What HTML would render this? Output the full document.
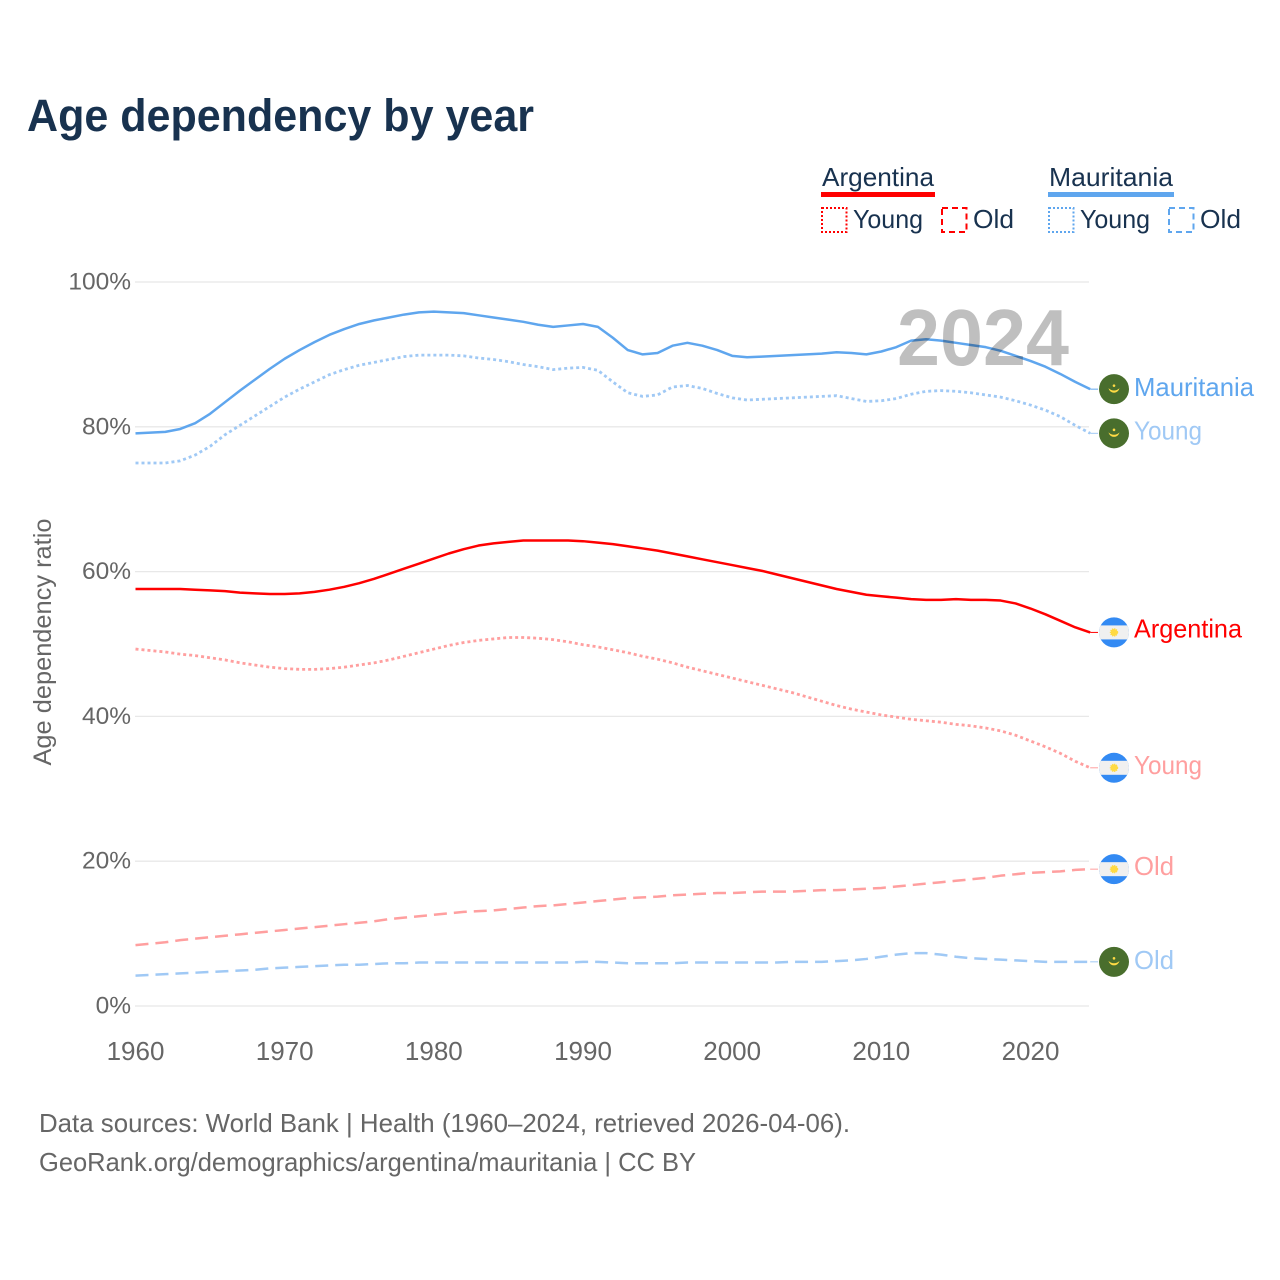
<!DOCTYPE html>
<html lang="en">
<head>
<meta charset="utf-8">
<title>Age dependency by year</title>
<style>
html,body{margin:0;padding:0;background:#fff;}
svg{display:block;}
text{font-family:"Liberation Sans",sans-serif;}
</style>
</head>
<body>
<svg id="chart" xmlns="http://www.w3.org/2000/svg" width="1280" height="1280" viewBox="0 0 1280 1280">
  <defs>
    <clipPath id="flag-clip"><circle cx="0" cy="0" r="15"/></clipPath>
  </defs>
  <rect x="0" y="0" width="1280" height="1280" fill="#fff"/>
  <text x="27" y="131" font-size="45" font-weight="700" fill="#18324f" textLength="507" lengthAdjust="spacingAndGlyphs">Age dependency by year</text>

  <g>
    <g>
      <text x="822" y="186" font-size="26" fill="#18324f" textLength="112" lengthAdjust="spacingAndGlyphs">Argentina</text>
      <rect x="821" y="192" width="114" height="5" fill="#ff0000"/>
      <rect x="822" y="208" width="24.5" height="24" fill="none" stroke="#ff0000" stroke-width="2" stroke-dasharray="2 2"/>
      <text x="853" y="228" font-size="26" fill="#18324f" textLength="70" lengthAdjust="spacingAndGlyphs">Young</text>
      <rect x="942" y="208" width="24.5" height="24" fill="none" stroke="#ff0000" stroke-width="2" stroke-dasharray="6 4"/>
      <text x="973" y="228" font-size="26" fill="#18324f" textLength="41" lengthAdjust="spacingAndGlyphs">Old</text>
    </g>
    <g>
      <text x="1049" y="186" font-size="26" fill="#18324f" textLength="124" lengthAdjust="spacingAndGlyphs">Mauritania</text>
      <rect x="1048" y="192" width="126" height="5" fill="#5fa6ee"/>
      <rect x="1049" y="208" width="24.5" height="24" fill="none" stroke="#5fa6ee" stroke-width="2" stroke-dasharray="2 2"/>
      <text x="1080" y="228" font-size="26" fill="#18324f" textLength="70" lengthAdjust="spacingAndGlyphs">Young</text>
      <rect x="1169" y="208" width="24.5" height="24" fill="none" stroke="#5fa6ee" stroke-width="2" stroke-dasharray="6 4"/>
      <text x="1200" y="228" font-size="26" fill="#18324f" textLength="41" lengthAdjust="spacingAndGlyphs">Old</text>
    </g>
  </g>

  <g id="grid"></g>
  <g id="yticks"></g>
  <g id="xticks"></g>
  <text transform="translate(51,642) rotate(-90)" text-anchor="middle" font-size="25" fill="#666666" textLength="247" lengthAdjust="spacingAndGlyphs">Age dependency ratio</text>
  <g id="series"></g>
  <g id="endlabels"></g>
  <text x="897" y="365" font-size="80" font-weight="700" fill="#000" fill-opacity="0.25" textLength="172" lengthAdjust="spacingAndGlyphs">2024</text>

  <text x="39" y="1132" font-size="26" fill="#666666" textLength="811" lengthAdjust="spacingAndGlyphs">Data sources: World Bank | Health (1960–2024, retrieved 2026-04-06).</text>
  <text x="39" y="1171" font-size="26" fill="#666666" textLength="657" lengthAdjust="spacingAndGlyphs">GeoRank.org/demographics/argentina/mauritania | CC BY</text>
</svg>
<script>
const years = [1960,1961,1962,1963,1964,1965,1966,1967,1968,1969,1970,1971,1972,1973,1974,1975,1976,1977,1978,1979,1980,1981,1982,1983,1984,1985,1986,1987,1988,1989,1990,1991,1992,1993,1994,1995,1996,1997,1998,1999,2000,2001,2002,2003,2004,2005,2006,2007,2008,2009,2010,2011,2012,2013,2014,2015,2016,2017,2018,2019,2020,2021,2022,2023,2024];
const yTickValues = [0,20,40,60,80,100];
const xTickValues = [1960,1970,1980,1990,2000,2010,2020];
const mauritaniaTotal = [79.1,79.2,79.3,79.7,80.5,81.8,83.4,85.0,86.5,88.0,89.4,90.6,91.7,92.7,93.5,94.2,94.7,95.1,95.5,95.8,95.9,95.8,95.7,95.4,95.1,94.8,94.5,94.1,93.8,94.0,94.2,93.8,92.3,90.6,90.0,90.2,91.2,91.6,91.2,90.6,89.8,89.6,89.7,89.8,89.9,90.0,90.1,90.3,90.2,90.0,90.4,91.0,91.9,92.1,91.9,91.6,91.3,91.0,90.5,89.8,89.1,88.3,87.3,86.2,85.2];
const mauritaniaYoung = [75.0,75.0,75.0,75.3,76.1,77.3,78.9,80.2,81.5,82.8,84.1,85.2,86.2,87.2,87.9,88.5,88.9,89.3,89.7,89.9,89.9,89.9,89.8,89.5,89.3,89.0,88.6,88.3,87.9,88.1,88.2,87.8,86.2,84.7,84.2,84.4,85.5,85.7,85.3,84.6,84.0,83.7,83.8,83.9,84.0,84.1,84.2,84.3,83.9,83.5,83.6,83.9,84.5,84.9,85.0,84.9,84.7,84.4,84.1,83.6,83.0,82.3,81.4,80.2,79.1];
const mauritaniaOld = [4.2,4.3,4.4,4.5,4.6,4.7,4.8,4.9,5.0,5.2,5.3,5.4,5.5,5.6,5.7,5.7,5.8,5.9,5.9,6.0,6.0,6.0,6.0,6.0,6.0,6.0,6.0,6.0,6.0,6.0,6.1,6.1,6.0,5.9,5.9,5.9,5.9,6.0,6.0,6.0,6.0,6.0,6.0,6.0,6.1,6.1,6.1,6.2,6.3,6.5,6.8,7.1,7.3,7.3,7.1,6.8,6.6,6.5,6.4,6.3,6.2,6.1,6.1,6.1,6.1];
const argentinaTotal = [57.6,57.6,57.6,57.6,57.5,57.4,57.3,57.1,57.0,56.9,56.9,57.0,57.2,57.5,57.9,58.4,59.0,59.7,60.4,61.1,61.8,62.5,63.1,63.6,63.9,64.1,64.3,64.3,64.3,64.3,64.2,64.0,63.8,63.5,63.2,62.9,62.5,62.1,61.7,61.3,60.9,60.5,60.1,59.6,59.1,58.6,58.1,57.6,57.2,56.8,56.6,56.4,56.2,56.1,56.1,56.2,56.1,56.1,56.0,55.6,54.9,54.1,53.2,52.3,51.6];
const argentinaYoung = [49.3,49.1,48.9,48.6,48.4,48.1,47.8,47.4,47.1,46.8,46.6,46.5,46.5,46.6,46.8,47.1,47.4,47.8,48.3,48.8,49.3,49.8,50.2,50.5,50.7,50.9,50.9,50.8,50.6,50.3,49.9,49.6,49.2,48.8,48.3,47.9,47.4,46.8,46.3,45.8,45.3,44.8,44.3,43.8,43.3,42.7,42.1,41.5,41.0,40.6,40.2,39.9,39.6,39.4,39.2,38.9,38.7,38.4,38.0,37.4,36.6,35.8,34.9,33.8,32.9];
const argentinaOld = [8.4,8.6,8.8,9.1,9.3,9.5,9.7,9.9,10.1,10.3,10.5,10.7,10.9,11.1,11.3,11.5,11.7,12.0,12.2,12.4,12.6,12.8,13.0,13.1,13.2,13.4,13.6,13.8,13.9,14.1,14.3,14.5,14.7,14.9,15.0,15.1,15.3,15.4,15.5,15.6,15.6,15.7,15.8,15.8,15.8,15.9,16.0,16.0,16.1,16.2,16.3,16.5,16.7,16.9,17.1,17.3,17.5,17.7,18.0,18.2,18.4,18.5,18.6,18.8,18.9];

const NS = 'http://www.w3.org/2000/svg';
function xScale(year){ return 135.5 + (year - 1960) * (1030.5 - 135.5) / 60; }
function yScale(pct){ return 1006 - pct * 7.24; }
function make(tag, attrs, parent){
  const el = document.createElementNS(NS, tag);
  for (const k in attrs) el.setAttribute(k, attrs[k]);
  parent.appendChild(el);
  return el;
}

const grid = document.getElementById('grid');
const yticks = document.getElementById('yticks');
yTickValues.forEach(function(v){
  const line = make('line', {x1:135, x2:1089, y1:yScale(v), y2:yScale(v), stroke:'#e8e8e8', 'stroke-width':1.3}, grid);
  
  
  const t = make('text', {x:131, y:yScale(v)+7.5, 'text-anchor':'end', 'font-size':24.5, fill:'#666666'}, yticks);
  
  
  t.textContent = v + '%';
});
const xticks = document.getElementById('xticks');
xTickValues.forEach(function(v){
  const t = make('text', {x:xScale(v), y:1060, 'text-anchor':'middle', 'font-size':26, fill:'#666666'}, xticks);
  
  
  t.textContent = v;
});

const BLUE = '#5fa6ee', BLUE_L = '#a0c9f5', RED = '#ff0000', RED_L = '#ff9f9f';
const seriesList = [
  {key:'mauritania-total', values:mauritaniaTotal, color:BLUE, dash:'', label:'Mauritania', labelColor:BLUE, flag:'mr', textDy:7, len:120},
  {key:'mauritania-young', values:mauritaniaYoung, color:BLUE_L, dash:'3 3', label:'Young', labelColor:BLUE_L, flag:'mr', textDy:6, len:68},
  {key:'mauritania-old', values:mauritaniaOld, color:BLUE_L, dash:'13 7', label:'Old', labelColor:BLUE_L, flag:'mr', textDy:7, len:40},
  {key:'argentina-total', values:argentinaTotal, color:RED, dash:'', label:'Argentina', labelColor:RED, flag:'ar', textDy:5, len:108},
  {key:'argentina-young', values:argentinaYoung, color:RED_L, dash:'3 3', label:'Young', labelColor:RED_L, flag:'ar', textDy:6, len:68},
  {key:'argentina-old', values:argentinaOld, color:RED_L, dash:'13 7', label:'Old', labelColor:RED_L, flag:'ar', textDy:6, len:40}
];

function drawFlag(kind, cx, cy, parent){
  const g = make('g', {transform:'translate('+cx+','+cy+')'}, parent);
  
  
  const c = make('g', {'clip-path':'url(#flag-clip)'}, g);
  if (kind === 'ar') {
    make('rect', {x:-16, y:-16, width:32, height:32, fill:'#338af3'}, c);
    make('rect', {x:-16, y:-7, width:32, height:14, fill:'#f0f0f0'}, c);
    make('circle', {cx:0, cy:0, r:3.4, fill:'#ffda44', stroke:'#ffda44', 'stroke-width':1.6, 'stroke-dasharray':'1.2 0.8'}, c);
  } else {
    make('rect', {x:-16, y:-16, width:32, height:32, fill:'#496e2d'}, c);
    make('path', {d:'M-5.5 -1 A5.6 5.6 0 0 0 5.5 -1 A7.5 7.5 0 0 1 -5.5 -1 Z', fill:'#ffda44'}, c);
    make('circle', {cx:0, cy:-3.5, r:1.3, fill:'#ffda44'}, c);
  }
}

const seriesGroup = document.getElementById('series');
const labelGroup = document.getElementById('endlabels');
const endYear = years[years.length - 1];
seriesList.forEach(function(s){
  const pts = s.values.map(function(v, i){ return xScale(years[i]).toFixed(2) + ',' + yScale(v).toFixed(2); }).join(' ');
  const attrs = {points:pts, fill:'none', stroke:s.color, 'stroke-width':s.dash === '3 3' ? 2.8 : 2.5, 'stroke-linejoin':'round'};
  if (s.dash) attrs['stroke-dasharray'] = s.dash;
  const line = make('polyline', attrs, seriesGroup);
  
  
  const lastY = yScale(s.values[s.values.length - 1]);
  const conn = make('line', {x1:xScale(endYear), x2:1098, y1:lastY, y2:lastY, stroke:s.color, 'stroke-width':1}, labelGroup);
  
  
  drawFlag(s.flag, 1114, lastY, labelGroup);
  const t = make('text', {x:1134, y:lastY + s.textDy, 'font-size':26, fill:s.labelColor, textLength:s.len, lengthAdjust:'spacingAndGlyphs'}, labelGroup);
  
  
  t.textContent = s.label;
});
</script>
</body>
</html>
